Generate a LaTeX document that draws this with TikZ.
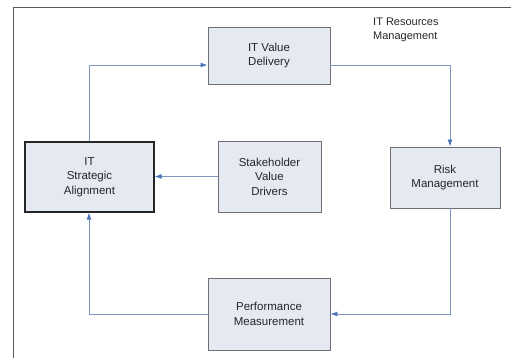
\documentclass[tikz,border=0pt]{standalone}
\usepackage{fontspec}
\setmainfont{Liberation Sans}
\usetikzlibrary{arrows.meta}
\definecolor{boxfill}{HTML}{E4E9F2}
\definecolor{boxline}{HTML}{6E6E74}
\definecolor{flow}{HTML}{7E95BD}
\definecolor{tipblue}{HTML}{4A74B8}
\begin{document}
\begin{tikzpicture}[x=1pt,y=-1pt,
  stage/.style={draw=boxline,line width=0.9pt,fill=boxfill,align=center,
    font=\fontsize{11.5}{14.5}\selectfont,text=black!85,inner sep=0pt},
  flowline/.style={draw=flow,line width=0.9pt,
    -{Latex[length=7pt,width=5pt,color=tipblue]}}]
\useasboundingbox (0,0) rectangle (511,358);
% outer frame
\draw[gray!70!black,line width=0.8pt] (511,7) -- (13,7) -- (13,358);
% stages
\node[stage,minimum width=122pt,minimum height=57pt] (value) at (269,55.5) {IT Value\\Delivery};
\node[stage,minimum width=110pt,minimum height=61pt] (risk) at (445,177.5) {Risk\\Management};
\node[stage,minimum width=122pt,minimum height=72pt] (perf) at (269,314) {Performance\\Measurement};
\node[stage,draw=black!85,line width=1.2pt,minimum width=129pt,minimum height=70pt] (align) at (89.5,177) {IT\\Strategic\\Alignment};
\node[stage,minimum width=103pt,minimum height=71pt] (stake) at (269.5,176.5) {Stakeholder\\Value\\Drivers};
% label
\node[anchor=north west,align=left,inner sep=0pt,font=\fontsize{11}{13.5}\selectfont,text=black!85] (res) at (373,18) {IT Resources\\Management};
% corner points of the cycle
\coordinate (c1) at (89,65);
\coordinate (c2) at (450,65);
\coordinate (c3) at (450,314);
\coordinate (c4) at (89,314);
% connectors
\draw[flowline] (align.north -| c1) -- (c1) -- (value.west |- c1);
\draw[flowline] (value.east |- c2) -- (c2) -- (risk.north -| c2);
\draw[flowline] (risk.south -| c3) -- (c3) -- (perf.east |- c3);
\draw[flowline] (perf.west |- c4) -- (c4) -- (align.south -| c4);
\draw[flowline] (stake.west) -- (align.east |- stake.west);
\end{tikzpicture}
\end{document}
